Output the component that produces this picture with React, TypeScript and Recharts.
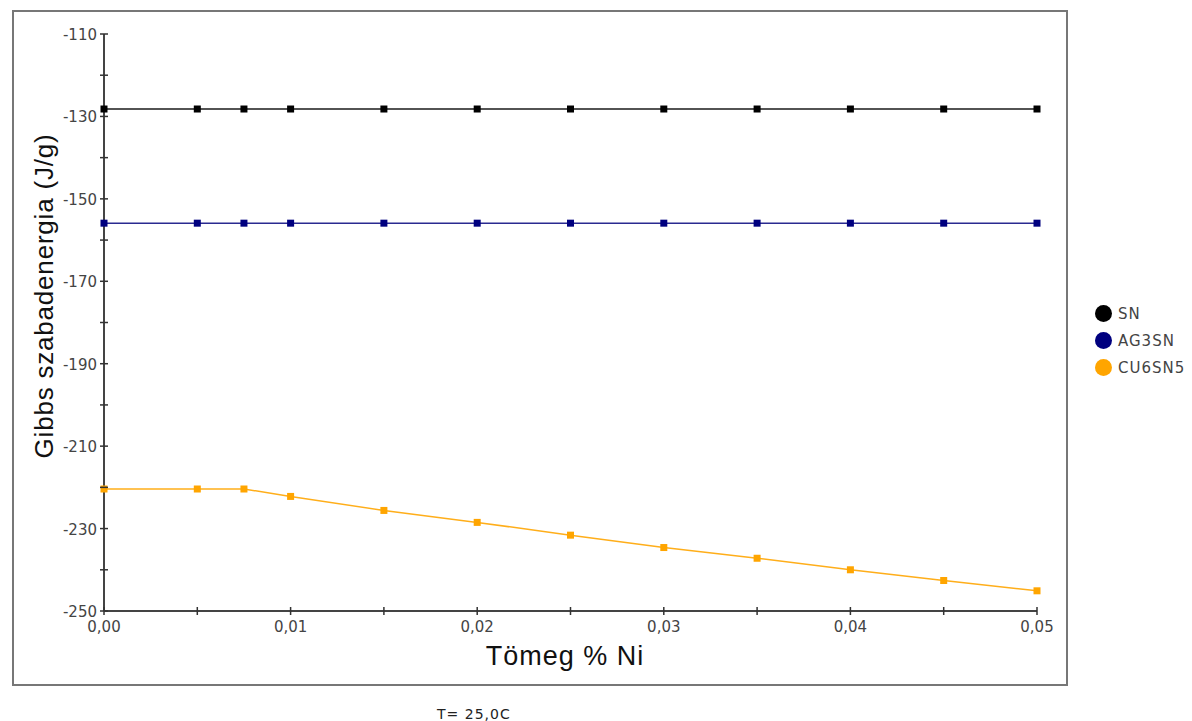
import { LineChart, Line, XAxis, YAxis, Legend } from "recharts";

const xValues = [0, 0.005, 0.0075, 0.01, 0.015, 0.02, 0.025, 0.03, 0.035, 0.04, 0.045, 0.05];
const snValues = [-128.2, -128.2, -128.2, -128.2, -128.2, -128.2, -128.2, -128.2, -128.2, -128.2, -128.2, -128.2];
const ag3snValues = [-155.9, -155.9, -155.9, -155.9, -155.9, -155.9, -155.9, -155.9, -155.9, -155.9, -155.9, -155.9];
const cu6sn5Values = [-220.4, -220.4, -220.4, -222.2, -225.6, -228.5, -231.6, -234.6, -237.2, -240.0, -242.6, -245.1];

const xTicks = [0, 0.005, 0.01, 0.015, 0.02, 0.025, 0.03, 0.035, 0.04, 0.045, 0.05];
const yTicks = [-250, -240, -230, -220, -210, -200, -190, -180, -170, -160, -150, -140, -130, -120, -110];

const seriesList = [
  { key: "sn", name: "SN", color: "#000000", line: "#1a1a1a" },
  { key: "ag3sn", name: "AG3SN", color: "#00007f", line: "#2a2a90" },
  { key: "cu6sn5", name: "CU6SN5", color: "#ffa500", line: "#ffae1a" },
];

const data = xValues.map((x, i) => ({
  x,
  sn: snValues[i],
  ag3sn: ag3snValues[i],
  cu6sn5: cu6sn5Values[i],
}));

const FONT = "'Liberation Sans', Arial, sans-serif";
const TICK_FONT = "'DejaVu Sans', sans-serif";

function formatX(v: number) {
  return v.toFixed(2).replace(".", ",");
}

function YTick(props: any) {
  const { x, y, payload } = props;
  const v = Math.round(payload.value);
  const major = v % 20 !== 0;
  return (
    <g>
      <line x1={x - 4} x2={x + 4} y1={y} y2={y} stroke="#333" strokeWidth={1.5} />
      {major && (
        <text x={x - 7} y={y + 1} textAnchor="end" dominantBaseline="central" fill="#444" fontSize={15} fontFamily={TICK_FONT}>
          {v}
        </text>
      )}
    </g>
  );
}

function XTick(props: any) {
  const { x, y, payload } = props;
  const v = payload.value as number;
  const major = Math.abs(v * 100 - Math.round(v * 100)) < 1e-6;
  return (
    <g>
      <line x1={x} x2={x} y1={y - 4} y2={y + 4} stroke="#333" strokeWidth={1.5} />
      {major && (
        <text x={x} y={y + 16} textAnchor="middle" dominantBaseline="central" fill="#444" fontSize={15} fontFamily={TICK_FONT}>
          {formatX(v)}
        </text>
      )}
    </g>
  );
}

function SquareDot(props: any) {
  const { cx, cy, fill } = props;
  if (cx == null || cy == null) return null;
  return <rect x={cx - 3.5} y={cy - 3.5} width={7} height={7} fill={fill} />;
}

function LegendContent() {
  return (
    <div style={{ fontFamily: TICK_FONT }}>
      {seriesList.map((s) => (
        <div key={s.key} style={{ display: "flex", alignItems: "center", height: 27 }}>
          <span
            style={{
              display: "inline-block",
              width: 17,
              height: 17,
              borderRadius: 9,
              background: s.color,
              marginRight: 6,
            }}
          />
          <span style={{ fontSize: 15, letterSpacing: 1, color: "#444" }}>{s.name}</span>
        </div>
      ))}
    </div>
  );
}

export default function App() {
  return (
    <div style={{ position: "absolute", left: 0, top: 0, width: 1192, height: 721, background: "#fff" }}>
      <div
        style={{
          position: "absolute",
          left: 12,
          top: 10,
          width: 1052,
          height: 672,
          border: "2px solid #777",
        }}
      />
      <div style={{ position: "absolute", left: 0, top: 0 }}>
        <LineChart width={1192} height={721} data={data} margin={{ top: 34, right: 155, bottom: 80, left: 0 }}>
          <XAxis
            dataKey="x"
            type="number"
            domain={[0, 0.05]}
            ticks={xTicks}
            interval={0}
            height={30}
            tickLine={false}
            tickSize={0}
            tickMargin={0}
            tick={<XTick />}
            axisLine={{ stroke: "#444", strokeWidth: 2 }}
          />
          <YAxis
            type="number"
            domain={[-250, -110]}
            ticks={yTicks}
            interval={0}
            width={104}
            tickLine={false}
            tickSize={0}
            tickMargin={0}
            tick={<YTick />}
            axisLine={{ stroke: "#444", strokeWidth: 2 }}
          />
          <Legend
            layout="vertical"
            align="center"
            verticalAlign="middle"
            content={<LegendContent />}
            wrapperStyle={{ left: 1095, top: 300, width: 97 }}
          />
          {seriesList.map((s) => (
            <Line
              key={s.key}
              type="linear"
              dataKey={s.key}
              name={s.name}
              stroke={s.line}
              strokeWidth={1.5}
              fill={s.color}
              dot={<SquareDot fill={s.color} />}
              activeDot={false}
              isAnimationActive={false}
            />
          ))}
          <text
            x={53}
            y={296}
            transform="rotate(-90, 53, 296)"
            textAnchor="middle"
            fill="#111"
            fontSize={26}
            letterSpacing={0.8}
            fontFamily={FONT}
          >
            Gibbs szabadenergia (J/g)
          </text>
          <text x={565} y={665} textAnchor="middle" fill="#111" fontSize={27} letterSpacing={1} fontFamily={FONT}>
            Tömeg % Ni
          </text>
          <text x={437} y={719} textAnchor="start" fill="#222" fontSize={14} letterSpacing={1} fontFamily={TICK_FONT}>
            T= 25,0C
          </text>
        </LineChart>
      </div>
    </div>
  );
}
